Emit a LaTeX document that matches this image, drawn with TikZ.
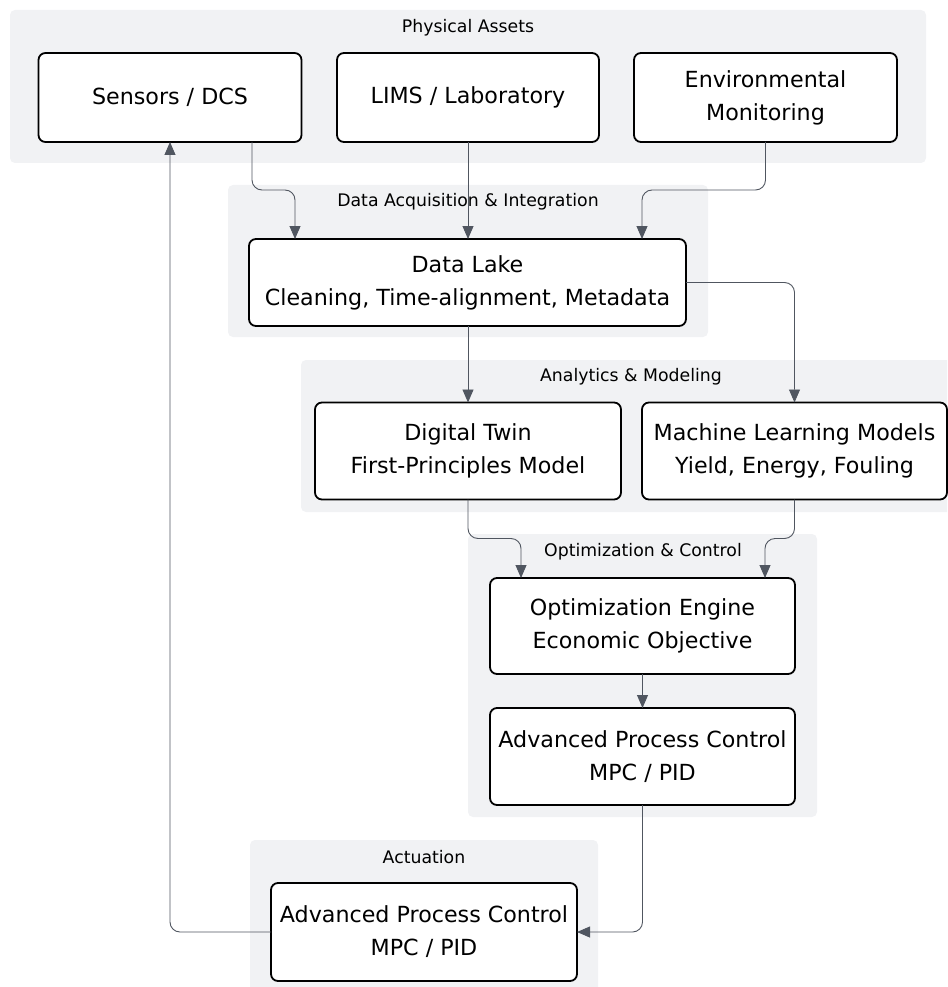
\documentclass[tikz,border=0pt]{standalone}
\usepackage{fontspec}
\setmainfont{DejaVu Sans}
\usetikzlibrary{arrows.meta,calc}
\definecolor{grpfill}{RGB}{241,242,244}
\definecolor{linec}{RGB}{80,86,96}
\begin{document}
\begin{tikzpicture}[x=1pt,y=-1pt,
  grp/.style={fill=grpfill,draw=none,rounded corners=5pt},
  grplabel/.style={font=\fontsize{17.3}{20}\selectfont,text=black,inner sep=0pt},
  box/.style={draw=black,fill=white,line width=1.8pt,rounded corners=7pt,align=center,inner sep=0pt,outer sep=0pt,font=\fontsize{22.2}{33}\selectfont},
  conn/.style={draw=linec,line width=0.9pt,rounded corners=10pt,-{Triangle[length=13pt,width=11pt]}},
]
\useasboundingbox (0,0) rectangle (947,987);

% groups
\begin{scope}
\clip (0,0) rectangle (947,987);
\fill[grp] (10,10) rectangle (926,163);
\fill[grp] (228,185) rectangle (708,337);
\fill[grp] (301,360) rectangle (962,512);
\fill[grp] (468,534) rectangle (817,817);
\fill[grp] (250,840) rectangle (598,1000);
\end{scope}

\node[grplabel] (gphys) at (468,28) {Physical Assets};
\node[grplabel] (gdai) at (468,202) {Data Acquisition \& Integration};
\node[grplabel] (gana) at (631,377) {Analytics \& Modeling};
\node[grplabel] (gopt) at (643,552) {Optimization \& Control};
\node[grplabel] (gact) at (424,857) {Actuation};

% nodes
\node[box,minimum width=263pt,minimum height=89pt] (sens) at (170,97.5) {Sensors / DCS};
\node[box,minimum width=262pt,minimum height=89pt] (lims) at (468,97.5) {LIMS / Laboratory};
\node[box,minimum width=263pt,minimum height=89pt] (env) at (765.5,97.5) {Environmental\\Monitoring};
\node[box,minimum width=437pt,minimum height=87pt] (lake) at (467.5,282.5) {Data Lake\\Cleaning, Time-alignment, Metadata};
\node[box,minimum width=306pt,minimum height=97pt] (twin) at (468,451) {Digital Twin\\First-Principles Model};
\node[box,minimum width=305pt,minimum height=97pt] (ml) at (794.5,451) {Machine Learning Models\\Yield, Energy, Fouling};
\node[box,minimum width=305pt,minimum height=96pt] (eng) at (642.5,626) {Optimization Engine\\Economic Objective};
\node[box,minimum width=305pt,minimum height=97pt] (apc) at (642.5,756.5) {Advanced Process Control\\MPC / PID};
\node[box,minimum width=306pt,minimum height=98pt] (act) at (424,932) {Advanced Process Control\\MPC / PID};

% connectors
\draw[conn] ($(sens.south)+(82,0)$) |- ($(lake.north)+(-172.5,-49)$) -- ($(lake.north)+(-172.5,0)$);
\draw[conn] (lims.south) -- (lims.south |- lake.north);
\draw[conn] (env.south) |- ($(lake.north)+(174.5,-49)$) -- ($(lake.north)+(174.5,0)$);
\draw[conn] (twin.north |- lake.south) -- (twin.north);
\draw[conn] (lake.east) -| (ml.north);
\draw[conn] (twin.south) |- ($(eng.north)+(-121.5,-39.5)$) -- ($(eng.north)+(-121.5,0)$);
\draw[conn] (ml.south) |- ($(eng.north)+(122.5,-39.5)$) -- ($(eng.north)+(122.5,0)$);
\draw[conn] (eng.south) -- (apc.north);
\draw[conn] (apc.south) |- (act.east);
\draw[conn] (act.west) -| (sens.south);
\end{tikzpicture}
\end{document}
